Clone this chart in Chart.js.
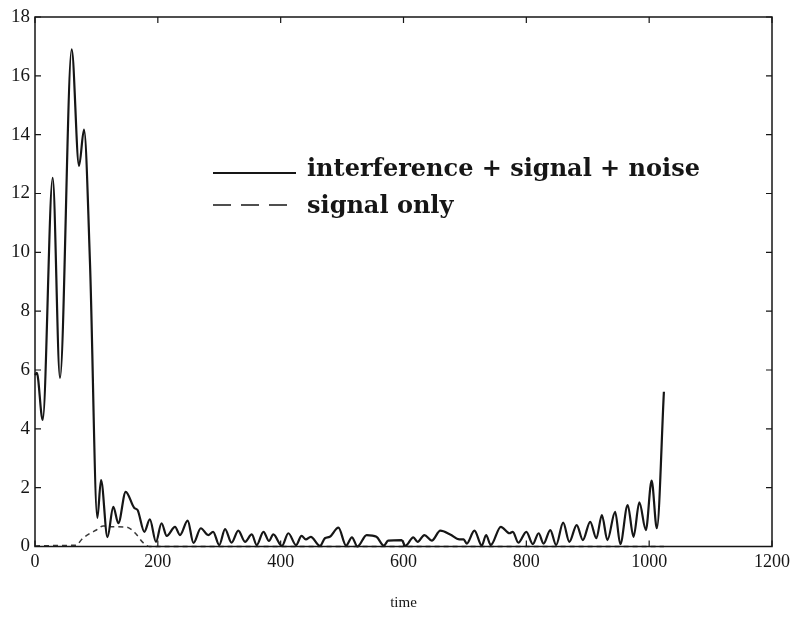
<!DOCTYPE html>
<html>
<head>
<meta charset="utf-8">
<script src="https://cdn.jsdelivr.net/npm/chart.js@4.4.1/dist/chart.umd.min.js"></script>
<style>
  html, body { margin: 0; padding: 0; background: #fff; }
  #c { display: block; }
</style>
</head>
<body>
<canvas id="c" width="795" height="625"></canvas>
<script>
// interference + signal + noise
const mainTime = [0,3,12.5,28.8,40.7,59.7,71.7,79.8,89.6,101.5,107.5,118,127.5,135.7,147.7,161.7,167,178,187,197,
  206,214.5,228,236,248.6,258,270,282,290,300,309.5,320,331,342,353,361,372,381,388,402,
  412.5,425,434,441,449,464,472,480,494,506.5,516,525,540,556,568,575,597,603,616,623,
  634,646,660,676,691,698,703,715.5,727.5,734.5,742,758.5,772.5,778,787,800,810.5,820,828,839,
  848.5,860,870,882,892,904,914,923,932,944.6,953,965,974.5,984,994.6,1004,1012.5,1024];
const mainAmp = [5.83,5.9,4.3,12.53,5.73,16.9,12.94,14.17,9.6,0.97,2.26,0.32,1.35,0.79,1.86,1.31,1.24,0.5,0.92,0.16,
  0.79,0.36,0.67,0.39,0.88,0.12,0.62,0.39,0.5,0.05,0.59,0.13,0.54,0.16,0.41,0.05,0.5,0.19,0.41,0.02,
  0.45,0.05,0.36,0.24,0.33,0.02,0.28,0.33,0.64,0.03,0.31,0,0.39,0.33,0.03,0.2,0.22,0.02,0.31,0.16,
  0.39,0.2,0.54,0.41,0.24,0.24,0.1,0.54,0.03,0.39,0.05,0.67,0.45,0.5,0.13,0.5,0.08,0.45,0.1,0.56,
  0.05,0.81,0.16,0.73,0.22,0.84,0.28,1.07,0.22,1.18,0.08,1.41,0.33,1.5,0.56,2.24,0.62,5.26];

// signal only
const sigTime = [0,30,60,68,76,90,100,111,127,149,163,176,187,1024];
const sigAmp  = [0.02,0.03,0.04,0.05,0.24,0.45,0.56,0.7,0.67,0.66,0.46,0.13,0,0];

const xTicks = [0,200,400,600,800,1000,1200];
const yTicks = [0,2,4,6,8,10,12,14,16,18];

const legendItems = ['interference + signal + noise', 'signal only'];

const serif = "'Liberation Serif', 'Times New Roman', serif";
const ink = '#161616';

// box around the plot, inward ticks on all four sides, legend inside
const framePlugin = {
  id: 'frame',
  afterDatasetsDraw(chart){
    const {ctx, chartArea: a, scales: {x, y}} = chart;
    ctx.save();
    ctx.strokeStyle = ink;
    ctx.lineWidth = 1.5;
    ctx.strokeRect(a.left, a.top, a.right - a.left, a.bottom - a.top);
    ctx.lineWidth = 1.2;
    const tl = 6;
    ctx.beginPath();
    xTicks.forEach(v=>{
      const px = x.getPixelForValue(v);
      ctx.moveTo(px, a.bottom); ctx.lineTo(px, a.bottom - tl);
      ctx.moveTo(px, a.top); ctx.lineTo(px, a.top + tl);
    });
    yTicks.forEach(v=>{
      const py = y.getPixelForValue(v);
      ctx.moveTo(a.left, py); ctx.lineTo(a.left + tl, py);
      ctx.moveTo(a.right, py); ctx.lineTo(a.right - tl, py);
    });
    ctx.stroke();

    // legend
    ctx.fillStyle = ink;
    ctx.font = "bold 24px 'DejaVu Serif', serif";
    ctx.textBaseline = 'alphabetic';
    ctx.lineWidth = 2;
    ctx.beginPath(); ctx.moveTo(213, 173); ctx.lineTo(296, 173); ctx.stroke();
    ctx.fillText(legendItems[0], 307, 176);
    ctx.lineWidth = 1.6;
    ctx.setLineDash([18, 10]);
    ctx.beginPath(); ctx.moveTo(213, 205); ctx.lineTo(291, 205); ctx.stroke();
    ctx.setLineDash([]);
    ctx.fillText(legendItems[1], 307, 213);
    ctx.restore();
  }
};

new Chart(document.getElementById('c'), {
  type: 'line',
  data: {
    datasets: [
      { label: legendItems[0], data: mainTime.map((t,i)=>({x:t, y:mainAmp[i]})),
        borderColor: ink, borderWidth: 2.2, pointRadius: 0, fill: false,
        cubicInterpolationMode: 'monotone' },
      { label: legendItems[1], data: sigTime.map((t,i)=>({x:t, y:sigAmp[i]})),
        borderColor: '#3a3a3a', borderWidth: 1.5, borderDash: [5,4], pointRadius: 0, fill: false,
        cubicInterpolationMode: 'monotone' }
    ]
  },
  options: {
    responsive: false,
    animation: false,
    clip: false,
    layout: { padding: { top: 17, right: 21, left: 0, bottom: 0 } },
    plugins: { legend: { display: false }, tooltip: { enabled: false } },
    scales: {
      x: {
        type: 'linear', min: 0, max: 1200,
        afterBuildTicks: s => { s.ticks = xTicks.map(v=>({value:v})); },
        ticks: { font: { family: serif, size: 18 }, color: ink, padding: 5, maxRotation: 0,
                 callback: v => String(v) },
        grid: { display: false, drawTicks: false },
        border: { display: false },
        title: { display: true, text: 'time', font: { family: serif, size: 15 }, color: ink,
                 padding: { top: 0, bottom: 13 } },
        afterFit: s => { s.height = 78.5; }
      },
      y: {
        min: 0, max: 18,
        afterBuildTicks: s => { s.ticks = yTicks.map(v=>({value:v})); },
        ticks: { font: { family: serif, size: 19 }, color: ink, padding: 5,
                 callback: v => String(v) },
        grid: { display: false, drawTicks: false },
        border: { display: false },
        afterFit: s => { s.width = 35; }
      }
    }
  },
  plugins: [framePlugin]
});
</script>
</body>
</html>
